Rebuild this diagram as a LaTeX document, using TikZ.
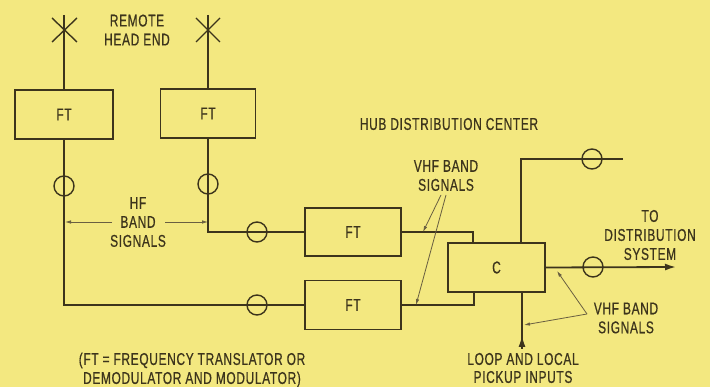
\documentclass[tikz,border=0pt]{standalone}
\usepackage{fontspec}
\setmainfont{Liberation Sans}[FakeStretch=0.7,LetterSpace=4,FakeBold=0.6]
\usetikzlibrary{arrows.meta}
\definecolor{bgyel}{RGB}{243,232,128}
\definecolor{ink}{RGB}{60,52,28}
\definecolor{thin}{RGB}{105,95,65}
\begin{document}
\begin{tikzpicture}[x=1pt,y=-1pt,
  every node/.style={text=ink,font=\fontsize{17}{19}\selectfont},
  ftbox/.style={draw=ink,line width=1.8pt,minimum width=96pt,minimum height=48pt,inner sep=0pt},
  ring/.style={draw=ink,line width=1.4pt,circle,minimum size=20pt,inner sep=0pt},
  wire/.style={draw=ink,line width=1.8pt},
  lead/.style={draw=thin,line width=0.8pt,-{Latex[length=6pt,width=3.5pt]}},
  bigarr/.style={draw=ink,line width=1.8pt,-{Latex[length=11pt,width=7pt]}},
  lbl/.style={align=center,inner sep=0pt}]
\fill[bgyel] (0,0) rectangle (710,387);
\useasboundingbox (0,0) rectangle (710,387);

% antennas
\coordinate (a1top) at (64,15);
\coordinate (a2top) at (208,15);
\node[ftbox,minimum width=98pt,minimum height=49pt] (ft1) at (64,114.5) {FT};
\node[ftbox,minimum width=95pt,minimum height=49pt] (ft2) at (208,113.5) {FT};
\draw[wire] (a1top) -- (ft1.north);
\draw[wire] (a2top) -- (ft2.north);
\draw[ink,line width=1.4pt] (52,18) -- (77,42) (77,18) -- (52,42);
\draw[ink,line width=1.4pt] (196,18) -- (220,42) (220,18) -- (196,42);

% middle FT boxes and combiner
\node[ftbox] (ft3) at (353,232) {FT};
\node[ftbox,minimum height=49pt] (ft4) at (353,305) {FT};
\node[ftbox,minimum width=97pt,minimum height=49pt] (cc) at (496.5,267.5) {C};

% HF wiring
\draw[wire] (ft1.south) |- (ft4.west);
\draw[wire] (ft2.south) |- (ft3.west);
\node[ring] (r1) at (64,186) {};
\node[ring] (r2) at (208,184) {};
\node[ring] (r3) at (257,232) {};
\node[ring] (r4) at (257,305) {};

% VHF wiring into C
\coordinate (cin1) at (473,243);
\coordinate (cin2) at (474,292);
\draw[wire] (ft3.east) -| (cin1);
\draw[wire] (ft4.east) -| (cin2);

% C outputs
\coordinate (cout1) at (521,243);
\coordinate (e1) at (623,159);
\draw[wire] (cout1) |- (e1);
\node[ring] (r5) at (592,159) {};
\coordinate (tip) at (676,267);
\draw[bigarr] (cc.east) -- (tip);
\node[ring] (r6) at (593,267) {};

% loop and local pickup input
\coordinate (cb) at (522,292);
\coordinate (lp) at (522,349);
\coordinate (lpt) at (522,336);
\draw[wire] (cb) -- (lp);
\draw[bigarr,line width=1pt] (lp) -- (lpt);

% labels
\node[lbl] (remote) at (137,30) {REMOTE\\HEAD END};
\node[lbl] (hub) at (449,124) {HUB DISTRIBUTION CENTER};
\node[lbl] (vhf1) at (446,175.5) {VHF BAND\\SIGNALS};
\node[lbl] (hf) at (138,222) {HF\\BAND\\SIGNALS};
\node[lbl] (todist) at (650,235) {TO\\DISTRIBUTION\\SYSTEM};
\node[lbl] (vhf2) at (626,318) {VHF BAND\\SIGNALS};
\node[lbl] (note) at (192,370) {(FT = FREQUENCY TRANSLATOR OR\\DEMODULATOR AND MODULATOR)};
\node[lbl,font=\fontsize{17}{18}\selectfont] (loop) at (523,368) {LOOP AND LOCAL\\PICKUP INPUTS};

% leaders
\coordinate (h1) at (112,222);
\coordinate (h1t) at (65,222);
\coordinate (h2) at (165,222);
\coordinate (h2t) at (208,222);
\draw[lead] (h1) -- (h1t);
\draw[lead] (h2) -- (h2t);
\coordinate (v1) at (441,195);
\coordinate (v1c) at (446,195);
\coordinate (v1a) at (423,232);
\coordinate (v1b) at (416,305);
\draw[lead] (v1) -- (v1a);
\draw[lead] (v1c) -- (v1b);
\coordinate (v2) at (587,314);
\coordinate (v2a) at (557,271);
\coordinate (v2b) at (524,325);
\draw[lead] (v2) -- (v2a);
\draw[lead] (v2) -- (v2b);
\end{tikzpicture}
\end{document}
